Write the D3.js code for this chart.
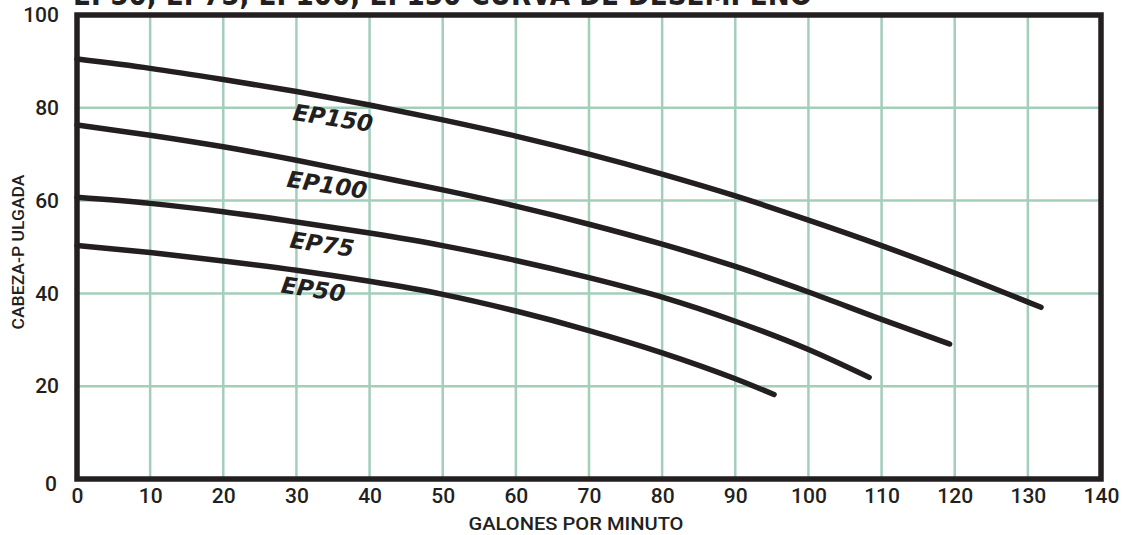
<!DOCTYPE html>
<html><head><meta charset="utf-8">
<script src="https://cdn.jsdelivr.net/npm/d3@7/dist/d3.min.js"></script>
<style>
html,body{margin:0;padding:0;background:#fff;overflow:hidden}
svg{display:block}
</style></head>
<body>
<svg id="chart" width="1123" height="535"></svg>
<script>
// ---- data ----
const titleText = "EP50, EP75, EP100, EP150 CURVA DE DESEMPEÑO";
const xTitle = "GALONES POR MINUTO";
const yTitle = "CABEZA-P ULGADA";
const xTicks = [0,10,20,30,40,50,60,70,80,90,100,110,120,130,140];
const yTicks = [0,20,40,60,80,100];
const seriesNames = ["EP150","EP100","EP75","EP50"];
const ep150Gpm  = [0,10,20,30,40,50,60,70,80,90,100,110,120,131.8];
const ep150Head = [90.5,88.5,86.1,83.5,80.6,77.4,73.9,70.0,65.7,61.0,55.8,50.3,44.4,37.0];
const ep100Gpm  = [0,10,20,30,40,50,60,70,80,90,100,110,119.3];
const ep100Head = [76.3,74.1,71.6,68.7,65.5,62.3,58.8,54.9,50.6,45.8,40.3,34.4,29.1];
const ep75Gpm   = [0,10,20,30,40,50,60,70,80,90,100,108.3];
const ep75Head  = [60.7,59.4,57.6,55.4,53.0,50.3,47.1,43.4,39.2,34.0,27.9,21.9];
const ep50Gpm   = [0,10,20,30,40,50,60,70,80,90,95.3];
const ep50Head  = [50.3,48.8,47.0,45.0,42.6,39.8,36.2,32.0,27.2,21.6,18.2];
// label anchors (data units)
const labelGpm  = [35.0,34.2,33.5,32.3];
const labelHead = [77.8,63.4,50.6,40.9];

// ---- chart ----
const svg = d3.select("#chart");
const x = d3.scaleLinear().domain([0,140]).range([77,1101]);
const y = d3.scaleLinear().domain([0,100]).range([479,15]);
const ink = "#231f20";
const gridColor = "#a3cfba";
const numFont = "Roboto,'Liberation Sans',sans-serif";

// title (clipped at top, as in the reference)
svg.append("text")
  .attr("x", x(0)-4).attr("y", 5)
  .attr("textLength", 739).attr("lengthAdjust","spacingAndGlyphs")
  .style("font-family","'DejaVu Sans',sans-serif").style("font-weight","bold")
  .style("font-size","30px").style("fill",ink)
  .text(titleText);

// grid
const g = svg.append("g");
g.selectAll("line.v").data(xTicks.filter(d=>d>0&&d<140)).enter().append("line")
  .attr("x1",d=>x(d)).attr("x2",d=>x(d)).attr("y1",y(100)).attr("y2",y(0))
  .attr("stroke",gridColor).attr("stroke-width",2.5);
g.selectAll("line.h").data(yTicks.filter(d=>d>0&&d<100)).enter().append("line")
  .attr("y1",d=>y(d)).attr("y2",d=>y(d)).attr("x1",x(0)).attr("x2",x(140))
  .attr("stroke",gridColor).attr("stroke-width",2.5);

// axes (labels only)
const xAxis = d3.axisBottom(x).tickValues(xTicks).tickSize(0).tickPadding(9);
const gx = svg.append("g").attr("transform",`translate(0,${y(0)})`).call(xAxis);
gx.select(".domain").remove();
gx.selectAll("text").style("font-family",numFont).style("font-weight","500")
  .style("font-size","21px").style("fill",ink);

const yAxis = d3.axisLeft(y).tickValues(yTicks).tickSize(0).tickPadding(18);
const gy = svg.append("g").attr("transform",`translate(${x(0)},0)`).call(yAxis);
gy.select(".domain").remove();
gy.selectAll("text").style("font-family",numFont).style("font-weight","500")
  .style("font-size","21px").style("fill",ink);
gy.selectAll(".tick").filter(d=>d===0).select("text").attr("dy","0.55em").attr("x",-20);

// axis titles
svg.append("text")
  .attr("x", 576).attr("y", 530).attr("text-anchor","middle")
  .attr("textLength",215).attr("lengthAdjust","spacingAndGlyphs")
  .style("font-family",numFont).style("font-weight","500")
  .style("font-size","19px").style("fill",ink)
  .text(xTitle);
svg.append("text")
  .attr("transform",`translate(24,${252}) rotate(-90)`).attr("text-anchor","middle")
  .attr("textLength",155).attr("lengthAdjust","spacingAndGlyphs")
  .style("font-family",numFont).style("font-weight","500")
  .style("font-size","17px").style("fill",ink)
  .text(yTitle);

// curves
const seriesData = [
  ep150Gpm.map((d,i)=>[d,ep150Head[i]]),
  ep100Gpm.map((d,i)=>[d,ep100Head[i]]),
  ep75Gpm.map((d,i)=>[d,ep75Head[i]]),
  ep50Gpm.map((d,i)=>[d,ep50Head[i]])
];
const line = d3.line().x(d=>x(d[0])).y(d=>y(d[1])).curve(d3.curveMonotoneX);
svg.append("g").selectAll("path").data(seriesData).enter().append("path")
  .attr("d",line).attr("fill","none").attr("stroke",ink)
  .attr("stroke-width",5.5).attr("stroke-linecap","round");

// curve labels
svg.append("g").selectAll("text").data(seriesNames).enter().append("text")
  .attr("transform",(d,i)=>`translate(${x(labelGpm[i])},${y(labelHead[i])}) rotate(8.5)`)
  .attr("text-anchor","middle").attr("dy","0.35em")
  .style("font-family","'DejaVu Sans',sans-serif").style("font-weight","bold")
  .style("font-style","italic").style("font-size","23px").style("fill",ink)
  .text(d=>d);

// frame
svg.append("rect")
  .attr("x",x(0)).attr("y",y(100)).attr("width",x(140)-x(0)).attr("height",y(0)-y(100))
  .attr("fill","none").attr("stroke",ink).attr("stroke-width",5.5);
</script>
</body></html>
